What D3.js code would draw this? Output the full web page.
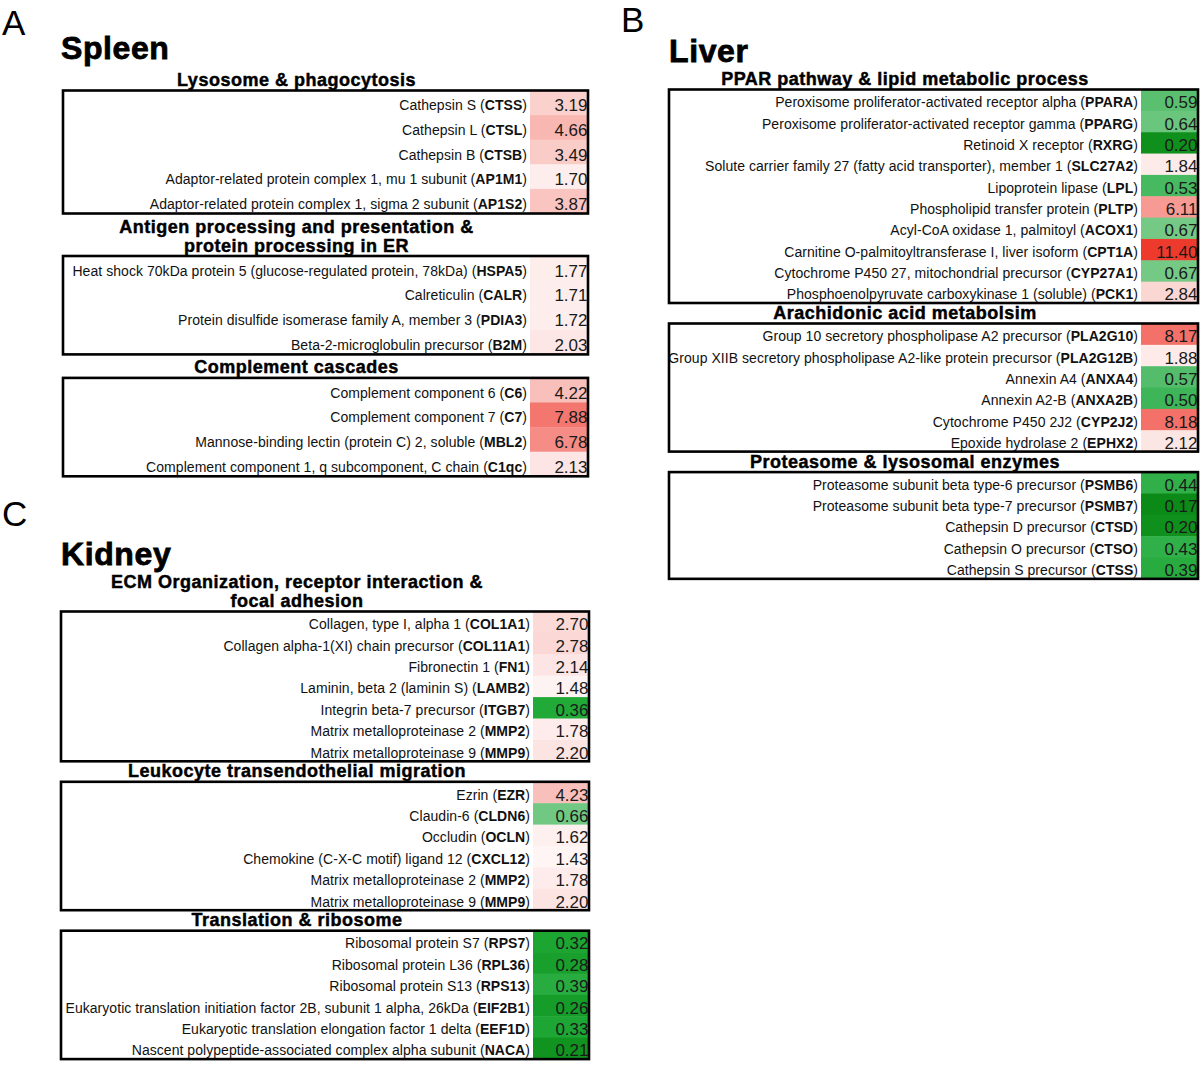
<!DOCTYPE html>
<html>
<head>
<meta charset="utf-8">
<script src="https://cdn.jsdelivr.net/npm/d3@7"></script>
<style>
body{margin:0;background:#fff;}
svg{display:block;font-family:"Liberation Sans",Arial,sans-serif;}
.lbl{font-size:14px;letter-spacing:0.05px;fill:#111;}
.val{font-size:17px;fill:#1a1a1a;}
.sec{font-size:18px;font-weight:bold;fill:#000;stroke:#000;stroke-width:0.45px;letter-spacing:0.5px;}
.tissue{font-size:32px;font-weight:bold;fill:#000;stroke:#000;stroke-width:0.8px;letter-spacing:0.6px;}
.letter{font-size:35px;fill:#000;}
</style>
</head>
<body>
<div id="chart"></div>
<script>
// spleen
const lysoNames=["Cathepsin S","Cathepsin L","Cathepsin B","Adaptor-related protein complex 1, mu 1 subunit","Adaptor-related protein complex 1, sigma 2 subunit"];
const lysoGenes=["CTSS","CTSL","CTSB","AP1M1","AP1S2"];
const lysoValues=[3.19,4.66,3.49,1.70,3.87];

const antigenNames=["Heat shock 70kDa protein 5 (glucose-regulated protein, 78kDa)","Calreticulin","Protein disulfide isomerase family A, member 3","Beta-2-microglobulin precursor"];
const antigenGenes=["HSPA5","CALR","PDIA3","B2M"];
const antigenValues=[1.77,1.71,1.72,2.03];

const complNames=["Complement component 6","Complement component 7","Mannose-binding lectin (protein C) 2, soluble","Complement component 1, q subcomponent, C chain"];
const complGenes=["C6","C7","MBL2","C1qc"];
const complValues=[4.22,7.88,6.78,2.13];

// liver
const pparNames=["Peroxisome proliferator-activated receptor alpha","Peroxisome proliferator-activated receptor gamma","Retinoid X receptor","Solute carrier family 27 (fatty acid transporter), member 1","Lipoprotein lipase","Phospholipid transfer protein","Acyl-CoA oxidase 1, palmitoyl","Carnitine O-palmitoyltransferase I, liver isoform","Cytochrome P450 27, mitochondrial precursor","Phosphoenolpyruvate carboxykinase 1 (soluble)"];
const pparGenes=["PPARA","PPARG","RXRG","SLC27A2","LPL","PLTP","ACOX1","CPT1A","CYP27A1","PCK1"];
const pparValues=[0.59,0.64,0.20,1.84,0.53,6.11,0.67,11.40,0.67,2.84];

const arachNames=["Group 10 secretory phospholipase A2 precursor","Group XIIB secretory phospholipase A2-like protein precursor","Annexin A4","Annexin A2-B","Cytochrome P450 2J2","Epoxide hydrolase 2"];
const arachGenes=["PLA2G10","PLA2G12B","ANXA4","ANXA2B","CYP2J2","EPHX2"];
const arachValues=[8.17,1.88,0.57,0.50,8.18,2.12];

const protNames=["Proteasome subunit beta type-6 precursor","Proteasome subunit beta type-7 precursor","Cathepsin D precursor","Cathepsin O precursor","Cathepsin S precursor"];
const protGenes=["PSMB6","PSMB7","CTSD","CTSO","CTSS"];
const protValues=[0.44,0.17,0.20,0.43,0.39];

// kidney
const ecmNames=["Collagen, type I, alpha 1","Collagen alpha-1(XI) chain precursor","Fibronectin 1","Laminin, beta 2 (laminin S)","Integrin beta-7 precursor","Matrix metalloproteinase 2","Matrix metalloproteinase 9"];
const ecmGenes=["COL1A1","COL11A1","FN1","LAMB2","ITGB7","MMP2","MMP9"];
const ecmValues=[2.70,2.78,2.14,1.48,0.36,1.78,2.20];

const leukoNames=["Ezrin","Claudin-6","Occludin","Chemokine (C-X-C motif) ligand 12","Matrix metalloproteinase 2","Matrix metalloproteinase 9"];
const leukoGenes=["EZR","CLDN6","OCLN","CXCL12","MMP2","MMP9"];
const leukoValues=[4.23,0.66,1.62,1.43,1.78,2.20];

const riboNames=["Ribosomal protein S7","Ribosomal protein L36","Ribosomal protein S13","Eukaryotic translation initiation factor 2B, subunit 1 alpha, 26kDa","Eukaryotic translation elongation factor 1 delta","Nascent polypeptide-associated complex alpha subunit"];
const riboGenes=["RPS7","RPL36","RPS13","EIF2B1","EEF1D","NACA"];
const riboValues=[0.32,0.28,0.39,0.26,0.33,0.21];

const color=d3.scaleLinear()
  .domain([0.17,0.25,0.36,0.5,0.67,1,1.7,3,4.5,8,11.4])
  .range(["#0b8a17","#159b28","#22aa38","#3db558","#74c985","#ffffff","#fdeeed","#fbd4d1","#f9bab5","#f3746c","#ee3a2c"])
  .clamp(true);

const svg=d3.select("#chart").append("svg").attr("width",1200).attr("height",1067);

function drawPanel(p){
  svg.append("text").attr("class","letter").attr("x",p.lx).attr("y",p.ly).text(p.letter);
  svg.append("text").attr("class","tissue").attr("x",p.tx).attr("y",p.ty).text(p.tissue);
  let y=p.startY;
  p.sections.forEach(s=>{
    const cx=(p.x0+p.valX)/2;
    s.titles.forEach((t,i)=>{
      svg.append("text").attr("class","sec")
        .attr("x",cx).attr("y",y+i*19+6)
        .attr("text-anchor","middle").text(t);
    });
    const top=y+(s.titles.length-1)*19+p.boxGap;
    const n=s.values.length;
    const rows=d3.scaleBand().domain(d3.range(n)).range([top,top+n*p.rowH]);
    const g=svg.append("g");
    g.selectAll("rect.cell").data(s.values).enter().append("rect")
      .attr("class","cell")
      .attr("x",p.valX).attr("y",(d,i)=>rows(i))
      .attr("width",p.x1-p.valX).attr("height",rows.bandwidth()+0.5)
      .attr("fill",d=>color(d));
    g.selectAll("text.val").data(s.values).enter().append("text")
      .attr("class","val")
      .attr("x",p.x1-0.5).attr("y",(d,i)=>rows(i)+rows.bandwidth()/2+p.textDy+1)
      .attr("text-anchor","end")
      .text(d=>d.toFixed(2));
    const lbl=g.selectAll("text.lbl").data(s.names).enter().append("text")
      .attr("class","lbl")
      .attr("x",p.valX-3).attr("y",(d,i)=>rows(i)+rows.bandwidth()/2+p.textDy)
      .attr("text-anchor","end");
    lbl.append("tspan").text(d=>d+" (");
    lbl.append("tspan").attr("font-weight","bold").text((d,i)=>s.genes[i]);
    lbl.append("tspan").text(")");
    g.append("rect")
      .attr("x",p.x0).attr("y",top)
      .attr("width",p.x1-p.x0).attr("height",n*p.rowH)
      .attr("fill","none").attr("stroke","#000").attr("stroke-width",2.6);
    y=top+n*p.rowH+p.gap;
  });
}

drawPanel({letter:"A",lx:2,ly:35,tissue:"Spleen",tx:61,ty:59,
  x0:63,x1:588,valX:530,startY:80,rowH:24.6,boxGap:10.5,gap:13,textDy:7.5,
  sections:[
    {titles:["Lysosome & phagocytosis"],names:lysoNames,genes:lysoGenes,values:lysoValues},
    {titles:["Antigen processing and presentation &","protein processing in ER"],names:antigenNames,genes:antigenGenes,values:antigenValues},
    {titles:["Complement cascades"],names:complNames,genes:complGenes,values:complValues}
  ]});

drawPanel({letter:"B",lx:621,ly:32,tissue:"Liver",tx:669,ty:62,
  x0:669,x1:1198,valX:1141,startY:79,rowH:21.35,boxGap:10.5,gap:10,textDy:7,
  sections:[
    {titles:["PPAR pathway & lipid metabolic process"],names:pparNames,genes:pparGenes,values:pparValues},
    {titles:["Arachidonic acid metabolsim"],names:arachNames,genes:arachGenes,values:arachValues},
    {titles:["Proteasome & lysosomal enzymes"],names:protNames,genes:protGenes,values:protValues}
  ]});

drawPanel({letter:"C",lx:2,ly:526,tissue:"Kidney",tx:61,ty:565,
  x0:61,x1:589,valX:533,startY:582,rowH:21.4,boxGap:10.5,gap:10,textDy:7,
  sections:[
    {titles:["ECM Organization, receptor interaction &","focal adhesion"],names:ecmNames,genes:ecmGenes,values:ecmValues},
    {titles:["Leukocyte transendothelial migration"],names:leukoNames,genes:leukoGenes,values:leukoValues},
    {titles:["Translation & ribosome"],names:riboNames,genes:riboGenes,values:riboValues}
  ]});
</script>
</body>
</html>
